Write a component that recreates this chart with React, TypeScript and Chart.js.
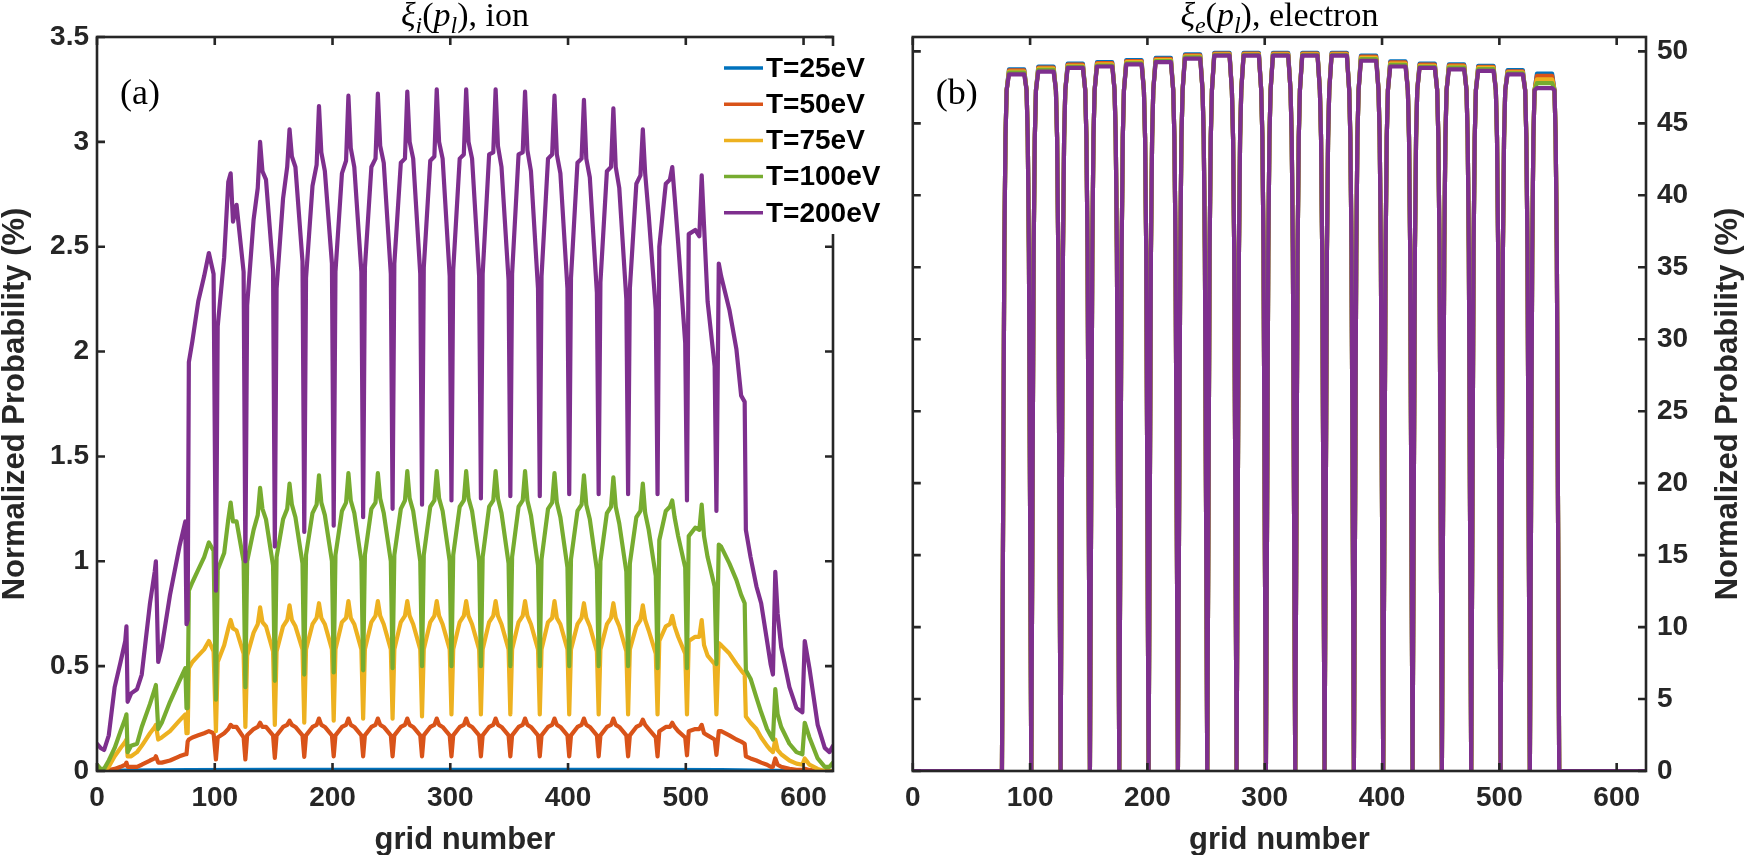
import React, { useEffect, useRef } from 'react';
import { Chart, registerables } from 'chart.js';

Chart.register(...registerables);

// ---- shared axis ticks / legend ----
const gridTicks = [0, 100, 200, 300, 400, 500, 600];
const ionTicks = [0, 0.5, 1, 1.5, 2, 2.5, 3, 3.5];
const elecTicks = [0, 5, 10, 15, 20, 25, 30, 35, 40, 45, 50];

const seriesNames = ['T=25eV', 'T=50eV', 'T=75eV', 'T=100eV', 'T=200eV'];
const seriesColors = ['#0072BD', '#D95319', '#EDB120', '#77AC30', '#7E2F8E'];

// ---- (a) ion: grid positions of the read vertices, shared by T=50..200 ----
const ionGrid = [
  0, 3, 6, 10, 15, 20, 24, 25, 26, 29, 34, 38, 45, 49, 50, 52, 55, 62, 70, 75, 76, 77, 78, 81, 86, 91, 95, 99,
  101, 102.5, 108, 111.5, 113.5, 115.5, 118.5, 124.5,
  126, 127.5, 133, 136.5, 138.5, 140.5, 143.5, 149.5,
  151, 152.5, 158, 161.5, 163.5, 165.5, 168.5, 174.5,
  176, 177.5, 183, 186.5, 188.5, 190.5, 193.5, 199.5,
  201, 202.5, 208, 211.5, 213.5, 215.5, 218.5, 224.5,
  226, 227.5, 233, 236.5, 238.5, 240.5, 243.5, 249.5,
  251, 252.5, 258, 261.5, 263.5, 265.5, 268.5, 274.5,
  276, 277.5, 283, 286.5, 288.5, 290.5, 293.5, 299.5,
  301, 302.5, 308, 311.5, 313.5, 315.5, 318.5, 324.5,
  326, 327.5, 333, 336.5, 338.5, 340.5, 343.5, 349.5,
  351, 352.5, 358, 361.5, 363.5, 365.5, 368.5, 374.5,
  376, 377.5, 383, 386.5, 388.5, 390.5, 393.5, 399.5,
  401, 402.5, 408, 411.5, 413.5, 415.5, 418.5, 424.5,
  426, 427.5, 433, 436.5, 438.5, 440.5, 443.5, 449.5,
  451, 452.5, 458, 461.5, 463.5, 465.5, 468.5, 474.5,
  476, 477.5, 483, 486.5, 488.5, 490.5, 493.5, 499.5,
  501, 502.5, 508, 511.5, 513.5, 515.5, 518.5, 524.5,
  526, 528, 530, 537, 543, 547, 550, 551, 555, 560, 564, 569, 572, 574, 576, 578, 581, 588, 594, 599, 601, 605, 612, 618, 622, 625,
];

const ionT25Grid = [0, 20, 78, 150, 300, 450, 530, 560, 580, 600, 625];
const ionT25 = [0.001, 0.002, 0.004, 0.005, 0.005, 0.005, 0.004, 0.002, 0.001, 0, 0];

const ionT50 = [
  0, 0, 0, 0.005, 0.01, 0.02, 0.03, 0.04, 0.02, 0.02, 0.02, 0.03, 0.05, 0.06, 0.07, 0.04, 0.04, 0.05, 0.07, 0.08, 0.08, 0.14, 0.15, 0.16, 0.17, 0.18, 0.19, 0.18,
  0.055, 0.16, 0.18, 0.2, 0.22, 0.21, 0.21, 0.16,
  0.055, 0.17, 0.2, 0.21, 0.23, 0.21, 0.21, 0.17,
  0.063, 0.17, 0.21, 0.22, 0.24, 0.22, 0.21, 0.17,
  0.067, 0.17, 0.21, 0.22, 0.25, 0.22, 0.21, 0.17,
  0.07, 0.17, 0.21, 0.22, 0.25, 0.22, 0.21, 0.17,
  0.07, 0.17, 0.21, 0.22, 0.25, 0.22, 0.21, 0.17,
  0.07, 0.17, 0.21, 0.22, 0.25, 0.22, 0.21, 0.17,
  0.07, 0.17, 0.21, 0.22, 0.25, 0.22, 0.21, 0.17,
  0.07, 0.17, 0.21, 0.22, 0.25, 0.22, 0.21, 0.17,
  0.07, 0.17, 0.21, 0.22, 0.25, 0.22, 0.21, 0.17,
  0.07, 0.17, 0.21, 0.22, 0.25, 0.22, 0.21, 0.17,
  0.07, 0.17, 0.21, 0.22, 0.25, 0.22, 0.21, 0.17,
  0.07, 0.17, 0.21, 0.22, 0.25, 0.22, 0.21, 0.17,
  0.07, 0.17, 0.21, 0.22, 0.25, 0.22, 0.21, 0.17,
  0.07, 0.17, 0.21, 0.22, 0.245, 0.22, 0.2, 0.16,
  0.07, 0.19, 0.21, 0.21, 0.23, 0.21, 0.19, 0.16,
  0.075, 0.19, 0.2, 0.2, 0.22, 0.18, 0.17, 0.15,
  0.077, 0.19, 0.19, 0.17, 0.15, 0.14, 0.13, 0.07, 0.06, 0.05, 0.04, 0.03, 0.02, 0.02, 0.06, 0.03, 0.02, 0.01, 0.005, 0.005, 0.01, 0.005, 0, 0, 0, 0,
];

const ionT75 = [
  0.01, 0, 0, 0.02, 0.07, 0.11, 0.14, 0.15, 0.07, 0.07, 0.09, 0.12, 0.18, 0.21, 0.22, 0.15, 0.16, 0.19, 0.24, 0.27, 0.18, 0.18, 0.49, 0.52, 0.55, 0.58, 0.62, 0.57,
  0.19, 0.52, 0.6, 0.68, 0.72, 0.68, 0.67, 0.56,
  0.21, 0.55, 0.66, 0.7, 0.78, 0.71, 0.69, 0.57,
  0.22, 0.57, 0.69, 0.72, 0.79, 0.72, 0.69, 0.58,
  0.23, 0.58, 0.7, 0.73, 0.8, 0.73, 0.7, 0.58,
  0.24, 0.58, 0.71, 0.73, 0.81, 0.73, 0.7, 0.58,
  0.25, 0.58, 0.71, 0.74, 0.81, 0.74, 0.7, 0.58,
  0.25, 0.58, 0.71, 0.74, 0.81, 0.74, 0.7, 0.58,
  0.26, 0.58, 0.71, 0.74, 0.81, 0.74, 0.7, 0.58,
  0.27, 0.58, 0.71, 0.74, 0.81, 0.74, 0.7, 0.58,
  0.27, 0.58, 0.71, 0.74, 0.81, 0.74, 0.7, 0.58,
  0.27, 0.58, 0.71, 0.74, 0.81, 0.74, 0.7, 0.58,
  0.27, 0.58, 0.71, 0.73, 0.81, 0.73, 0.7, 0.58,
  0.27, 0.58, 0.7, 0.73, 0.8, 0.73, 0.69, 0.57,
  0.27, 0.58, 0.7, 0.73, 0.8, 0.73, 0.69, 0.57,
  0.27, 0.58, 0.69, 0.72, 0.79, 0.72, 0.67, 0.56,
  0.27, 0.62, 0.69, 0.7, 0.74, 0.69, 0.64, 0.56,
  0.27, 0.62, 0.64, 0.64, 0.72, 0.6, 0.55, 0.51,
  0.27, 0.61, 0.6, 0.56, 0.51, 0.48, 0.46, 0.26, 0.23, 0.2, 0.16, 0.12, 0.1, 0.09, 0.15, 0.1, 0.08, 0.05, 0.035, 0.03, 0.06, 0.03, 0.01, 0, 0, 0,
];

const ionT100 = [
  0.03, 0.01, 0.01, 0.05, 0.11, 0.19, 0.25, 0.27, 0.09, 0.12, 0.13, 0.21, 0.32, 0.39, 0.41, 0.2, 0.23, 0.33, 0.43, 0.49, 0.3, 0.3, 0.86, 0.9, 0.96, 1.02, 1.09, 1.05,
  0.34, 0.96, 1.04, 1.2, 1.28, 1.19, 1.19, 1.0,
  0.4, 1.0, 1.15, 1.22, 1.35, 1.25, 1.2, 0.98,
  0.43, 1.02, 1.2, 1.25, 1.37, 1.27, 1.21, 0.99,
  0.46, 1.03, 1.23, 1.27, 1.41, 1.28, 1.22, 1.0,
  0.47, 1.03, 1.24, 1.28, 1.42, 1.29, 1.23, 1.0,
  0.48, 1.03, 1.25, 1.28, 1.42, 1.3, 1.23, 1.0,
  0.49, 1.03, 1.25, 1.29, 1.43, 1.3, 1.24, 1.0,
  0.5, 1.03, 1.26, 1.29, 1.43, 1.3, 1.24, 1.0,
  0.5, 1.03, 1.26, 1.29, 1.43, 1.3, 1.24, 1.0,
  0.5, 1.02, 1.26, 1.29, 1.43, 1.3, 1.23, 0.99,
  0.5, 1.02, 1.26, 1.29, 1.43, 1.29, 1.22, 0.98,
  0.5, 1.01, 1.25, 1.28, 1.42, 1.28, 1.21, 0.97,
  0.5, 1.01, 1.24, 1.27, 1.41, 1.27, 1.2, 0.96,
  0.5, 1.0, 1.23, 1.26, 1.4, 1.26, 1.18, 0.95,
  0.5, 0.99, 1.21, 1.24, 1.37, 1.23, 1.15, 0.93,
  0.49, 1.1, 1.24, 1.26, 1.29, 1.21, 1.12, 0.97,
  0.49, 1.12, 1.16, 1.15, 1.27, 1.12, 1.02, 0.88,
  0.51, 1.08, 1.07, 0.99, 0.91, 0.84, 0.8, 0.48, 0.44, 0.35, 0.28, 0.2, 0.17, 0.15, 0.39, 0.27, 0.21, 0.13, 0.09, 0.08, 0.23, 0.16, 0.06, 0.02, 0.02, 0.04,
];

const ionT200 = [
  0.13, 0.11, 0.1, 0.17, 0.4, 0.52, 0.62, 0.69, 0.33, 0.37, 0.39, 0.46, 0.8, 0.95, 1.0, 0.52, 0.59, 0.84, 1.07, 1.19, 0.7, 0.72, 1.95, 2.05, 2.24, 2.36, 2.47, 2.37,
  0.86, 2.12, 2.45, 2.81, 2.85, 2.62, 2.7, 2.38,
  1.0, 2.22, 2.63, 2.78, 3.0, 2.86, 2.82, 2.39,
  1.07, 2.3, 2.73, 2.88, 3.06, 2.93, 2.88, 2.43,
  1.14, 2.35, 2.79, 2.89, 3.17, 2.95, 2.86, 2.42,
  1.17, 2.38, 2.85, 2.91, 3.22, 2.97, 2.88, 2.38,
  1.21, 2.4, 2.88, 2.92, 3.23, 2.98, 2.9, 2.37,
  1.25, 2.42, 2.9, 2.92, 3.24, 3.0, 2.92, 2.37,
  1.27, 2.4, 2.91, 2.93, 3.25, 3.0, 2.92, 2.36,
  1.29, 2.39, 2.92, 2.94, 3.25, 3.0, 2.92, 2.36,
  1.3, 2.37, 2.94, 2.95, 3.25, 2.98, 2.88, 2.34,
  1.31, 2.37, 2.94, 2.95, 3.24, 2.96, 2.86, 2.3,
  1.31, 2.36, 2.92, 2.94, 3.22, 2.94, 2.85, 2.3,
  1.32, 2.35, 2.9, 2.92, 3.2, 2.92, 2.83, 2.28,
  1.32, 2.33, 2.86, 2.88, 3.16, 2.88, 2.78, 2.25,
  1.32, 2.3, 2.8, 2.84, 3.06, 2.85, 2.65, 2.2,
  1.32, 2.5, 2.8, 2.82, 2.88, 2.74, 2.52, 2.04,
  1.29, 2.56, 2.58, 2.55, 2.84, 2.6, 2.24, 1.93,
  1.24, 2.42, 2.36, 2.2, 2.01, 1.79, 1.76, 1.15, 1.02, 0.88, 0.8, 0.62, 0.51, 0.46, 0.95, 0.75, 0.59, 0.4, 0.3, 0.28, 0.62, 0.49, 0.22, 0.11, 0.09, 0.12,
];

// ---- (b) electron: cells start at a zero, plateau read per cell ----
const elecCellStart = [76, 101, 126, 151, 176, 201, 226, 251, 276, 301, 326, 351, 376, 401, 426, 451, 476, 501, 526];
const elecCellEnd = 551;
const elecEdgeStep = [0, 1, 2, 3, 4];
const elecEdgeValue = [0, 18, 36, 44, 47.3];

const elecT25 = [48.75, 48.95, 49.15, 49.25, 49.4, 49.55, 49.8, 49.9, 49.9, 49.9, 49.9, 49.9, 49.7, 49.3, 49.15, 49.1, 49.0, 48.7, 48.45];
const elecT50 = [48.68, 48.88, 49.08, 49.18, 49.33, 49.48, 49.73, 49.85, 49.85, 49.85, 49.85, 49.85, 49.63, 49.23, 49.08, 49.03, 48.93, 48.62, 48.3];
const elecT75 = [48.6, 48.8, 49.0, 49.1, 49.25, 49.4, 49.65, 49.8, 49.8, 49.8, 49.8, 49.8, 49.55, 49.15, 49.0, 48.95, 48.85, 48.55, 48.05];
const elecT100 = [48.52, 48.72, 48.92, 49.02, 49.17, 49.32, 49.58, 49.75, 49.75, 49.75, 49.75, 49.75, 49.47, 49.07, 48.92, 48.87, 48.77, 48.47, 47.8];
const elecT200 = [48.4, 48.6, 48.85, 48.95, 49.1, 49.25, 49.5, 49.7, 49.7, 49.7, 49.7, 49.7, 49.35, 48.95, 48.85, 48.75, 48.65, 48.4, 47.45];

const INK = '#262626';
const SANS = '"Liberation Sans", Arial, Helvetica, sans-serif';
const SERIF = '"Liberation Serif", "DejaVu Serif", serif';
const TICK = 8;

type Pt = { x: number; y: number };
type Seg = { t: string; it?: boolean; sub?: boolean };

function zip(xs: number[], ys: number[]): Pt[] {
  const out: Pt[] = [];
  xs.forEach((x, i) => {
    if (ys[i] !== undefined) out.push({ x, y: ys[i] });
  });
  return out;
}

function elecPoints(plateau: number[]): Pt[] {
  const pts: Pt[] = [{ x: 0, y: 0 }];
  elecCellStart.forEach((s, i) => {
    const p = plateau[i];
    const e = s + 25;
    elecEdgeStep.forEach((d, k) => pts.push({ x: s + d, y: Math.min(elecEdgeValue[k], p) }));
    pts.push({ x: s + 6, y: p }, { x: e - 6, y: p });
    for (let k = elecEdgeStep.length - 1; k >= 1; k--) {
      pts.push({ x: e - elecEdgeStep[k], y: Math.min(elecEdgeValue[k], p) });
    }
  });
  pts.push({ x: elecCellEnd, y: 0 }, { x: 625, y: 0 });
  return pts;
}

function makeDatasets(series: Pt[][]) {
  return series.map((data, i) => ({
    label: seriesNames[i],
    data,
    borderColor: seriesColors[i],
    backgroundColor: seriesColors[i],
    borderWidth: 4.2,
    pointRadius: 0,
    tension: 0,
    fill: false,
    borderJoinStyle: 'round' as const,
    borderCapStyle: 'round' as const,
    order: series.length - 1 - i,
  }));
}

function drawRich(ctx: CanvasRenderingContext2D, segs: Seg[], cx: number, baseline: number, size: number) {
  const fontFor = (s: Seg) => `${s.it ? 'italic ' : ''}${s.sub ? Math.round(size * 0.7) : size}px ${SERIF}`;
  let w = 0;
  segs.forEach((s) => {
    ctx.font = fontFor(s);
    w += ctx.measureText(s.t).width;
  });
  let x = cx - w / 2;
  ctx.textAlign = 'left';
  ctx.textBaseline = 'alphabetic';
  segs.forEach((s) => {
    ctx.font = fontFor(s);
    ctx.fillText(s.t, x, baseline + (s.sub ? size * 0.22 : 0));
    x += ctx.measureText(s.t).width;
  });
}

const decor = {
  id: 'decor',
  afterDraw(chart: any, _args: any, opts: any) {
    const { ctx, chartArea: a, scales } = chart;
    const xs = scales.x;
    const ys = scales.y;
    ctx.save();
    // box with inward ticks on all sides
    ctx.strokeStyle = INK;
    ctx.lineWidth = 2.6;
    ctx.beginPath();
    gridTicks.forEach((v) => {
      const px = xs.getPixelForValue(v);
      ctx.moveTo(px, a.bottom);
      ctx.lineTo(px, a.bottom - TICK);
      ctx.moveTo(px, a.top);
      ctx.lineTo(px, a.top + TICK);
    });
    ys.ticks.forEach((t: any) => {
      const py = ys.getPixelForValue(t.value);
      ctx.moveTo(a.left, py);
      ctx.lineTo(a.left + TICK, py);
      ctx.moveTo(a.right, py);
      ctx.lineTo(a.right - TICK, py);
    });
    ctx.stroke();
    ctx.strokeRect(a.left, a.top, a.right - a.left, a.bottom - a.top);

    // title
    ctx.fillStyle = '#000';
    drawRich(ctx, opts.title, (a.left + a.right) / 2, 26, 34);

    // panel label
    ctx.font = `36px ${SERIF}`;
    ctx.textAlign = 'left';
    ctx.textBaseline = 'alphabetic';
    ctx.fillText(opts.panel, a.left + 23, 104);

    // axis titles
    ctx.fillStyle = INK;
    ctx.font = `bold 31px ${SANS}`;
    ctx.textAlign = 'center';
    ctx.fillText('grid number', (a.left + a.right) / 2, 849);
    ctx.save();
    ctx.translate(opts.yTitleX, (a.top + a.bottom) / 2);
    ctx.rotate(-Math.PI / 2);
    ctx.fillText('Normalized Probability (%)', 0, 0);
    ctx.restore();

    // legend
    if (opts.legend) {
      ctx.fillStyle = '#fff';
      ctx.fillRect(712, 46, 176, 188);
      ctx.font = `bold 28px ${SANS}`;
      ctx.textAlign = 'left';
      ctx.textBaseline = 'middle';
      seriesNames.forEach((name, i) => {
        const y = 68 + i * 36.2;
        ctx.strokeStyle = seriesColors[i];
        ctx.lineWidth = 3.5;
        ctx.beginPath();
        ctx.moveTo(724, y);
        ctx.lineTo(763, y);
        ctx.stroke();
        ctx.fillStyle = '#000';
        ctx.fillText(name, 766, y + 1);
      });
    }
    ctx.restore();
  },
};

const tickFont = { family: SANS, size: 28, weight: 'bold' as const };

function xScale() {
  return {
    type: 'linear' as const,
    min: 0,
    max: 625,
    afterBuildTicks: (s: any) => {
      s.ticks = gridTicks.map((v) => ({ value: v }));
    },
    afterFit: (s: any) => {
      s.height = 84;
    },
    grid: { display: false, drawTicks: false },
    border: { display: false },
    ticks: { font: tickFont, color: INK, padding: 10, maxRotation: 0, autoSkip: false, callback: (v: any) => String(v) },
  };
}

function yScale(max: number, ticks: number[], position: 'left' | 'right', width: number, padding: number) {
  return {
    type: 'linear' as const,
    position,
    min: 0,
    max,
    afterBuildTicks: (s: any) => {
      s.ticks = ticks.map((v) => ({ value: v }));
    },
    afterFit: (s: any) => {
      s.width = width;
    },
    grid: { display: false, drawTicks: false },
    border: { display: false },
    ticks: { font: tickFont, color: INK, padding, autoSkip: false, callback: (v: any) => String(v) },
  };
}

function baseOptions() {
  return {
    responsive: false,
    animation: false as const,
    events: [] as any[],
    plugins: { legend: { display: false }, tooltip: { enabled: false } },
  };
}

export default function App() {
  const ionRef = useRef<HTMLCanvasElement>(null);
  const elecRef = useRef<HTMLCanvasElement>(null);

  useEffect(() => {
    const charts: Chart[] = [];
    if (ionRef.current) {
      charts.push(
        new Chart(ionRef.current, {
          type: 'line',
          data: {
            datasets: makeDatasets([
              zip(ionT25Grid, ionT25),
              zip(ionGrid, ionT50),
              zip(ionGrid, ionT75),
              zip(ionGrid, ionT100),
              zip(ionGrid, ionT200),
            ]) as any,
          },
          options: {
            ...baseOptions(),
            layout: { padding: { left: 0, right: 62, top: 37, bottom: 0 } },
            scales: { x: xScale(), y: yScale(3.5, ionTicks, 'left', 97, 8) },
            plugins: {
              ...baseOptions().plugins,
              decor: {
                title: [{ t: 'ξ', it: true }, { t: 'i', it: true, sub: true }, { t: '(' }, { t: 'p', it: true }, { t: 'l', it: true, sub: true }, { t: '), ion' }],
                panel: '(a)',
                yTitleX: 24,
                legend: true,
              },
            } as any,
          },
          plugins: [decor],
        })
      );
    }
    if (elecRef.current) {
      charts.push(
        new Chart(elecRef.current, {
          type: 'line',
          data: {
            datasets: makeDatasets([
              elecPoints(elecT25),
              elecPoints(elecT50),
              elecPoints(elecT75),
              elecPoints(elecT100),
              elecPoints(elecT200),
            ]) as any,
          },
          options: {
            ...baseOptions(),
            layout: { padding: { left: 14, right: 0, top: 37, bottom: 0 } },
            scales: { x: xScale(), y: yScale(51, elecTicks, 'right', 103, 11) },
            plugins: {
              ...baseOptions().plugins,
              decor: {
                title: [{ t: 'ξ', it: true }, { t: 'e', it: true, sub: true }, { t: '(' }, { t: 'p', it: true }, { t: 'l', it: true, sub: true }, { t: '), electron' }],
                panel: '(b)',
                yTitleX: 842,
                legend: false,
              },
            } as any,
          },
          plugins: [decor],
        })
      );
    }
    return () => charts.forEach((c) => c.destroy());
  }, []);

  return (
    <div style={{ position: 'fixed', left: 0, top: 0, width: 1749, height: 855, background: '#fff' }}>
      <canvas ref={ionRef} width={895} height={855} style={{ position: 'absolute', left: 0, top: 0 }} />
      <canvas ref={elecRef} width={854} height={855} style={{ position: 'absolute', left: 895, top: 0 }} />
    </div>
  );
}
